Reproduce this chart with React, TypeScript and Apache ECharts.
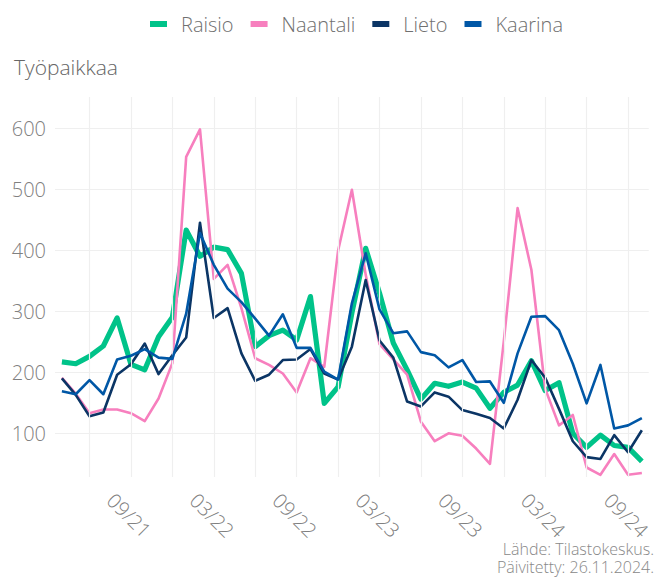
import React, { useEffect, useRef } from "react";
import * as echarts from "echarts";

const months: string[] = [
  "04/21", "05/21", "06/21", "07/21", "08/21", "09/21", "10/21", "11/21", "12/21",
  "01/22", "02/22", "03/22", "04/22", "05/22", "06/22", "07/22", "08/22", "09/22", "10/22", "11/22", "12/22",
  "01/23", "02/23", "03/23", "04/23", "05/23", "06/23", "07/23", "08/23", "09/23", "10/23", "11/23", "12/23",
  "01/24", "02/24", "03/24", "04/24", "05/24", "06/24", "07/24", "08/24", "09/24", "10/24",
];

const raisio: number[] = [217, 214, 226, 243, 289, 213, 204, 258, 290, 433, 390, 405, 401, 362, 242, 260, 269, 253, 324, 149, 176, 297, 403, 330, 248, 204, 156, 182, 177, 184, 174, 141, 167, 179, 219, 170, 183, 100, 77, 97, 80, 77, 54];
const naantali: number[] = [191, 165, 133, 139, 139, 133, 120, 157, 215, 553, 598, 353, 376, 305, 223, 212, 198, 167, 223, 209, 399, 499, 360, 246, 221, 196, 119, 87, 100, 96, 75, 50, 250, 469, 368, 173, 113, 130, 44, 32, 66, 32, 35];
const lieto: number[] = [190, 163, 128, 134, 196, 213, 247, 197, 228, 257, 445, 289, 305, 231, 186, 196, 220, 221, 238, 198, 188, 242, 351, 252, 224, 152, 144, 167, 160, 138, 132, 125, 108, 155, 220, 191, 140, 87, 61, 58, 97, 69, 105];
const kaarina: number[] = [169, 164, 187, 164, 221, 227, 238, 224, 222, 296, 428, 376, 337, 315, 288, 260, 295, 240, 240, 201, 188, 313, 395, 303, 264, 267, 233, 228, 208, 220, 184, 185, 150, 231, 291, 292, 269, 214, 149, 212, 108, 113, 125];

const seriesNames: string[] = ["Raisio", "Naantali", "Lieto", "Kaarina"];
const titleText = "Työpaikkaa";
const captionLines: string[] = ["Lähde: Tilastokeskus.", "Päivitetty: 26.11.2024."];

const FONT = "'Open Sans', Lato, sans-serif";

export default function App() {
  const ref = useRef<HTMLDivElement>(null);
  useEffect(() => {
    document.body.style.margin = "0";
    if (!ref.current) return;
    const chart = echarts.init(ref.current, null, { renderer: "svg" });
    const gridIdx = months.map((_, i) => i).filter((i) => i % 3 === 2);
    const colors = ["#00c389", "#f77fbe", "#0b3565", "#0057a6"];
    const widths = [5.2, 2.6, 2.6, 2.6];
    const dataSets = [raisio, naantali, lieto, kaarina];
    chart.setOption({
      animation: false,
      textStyle: { fontFamily: FONT },
      title: {
        text: titleText,
        left: 9,
        top: 51,
        textStyle: { fontFamily: FONT, fontSize: 21, fontWeight: 300, color: "#666666" },
      },
      legend: {
        data: seriesNames,
        top: 9,
        left: 145,
        icon: "rect",
        itemWidth: 17,
        itemHeight: 6,
        itemGap: 17,
        textStyle: { fontFamily: FONT, fontSize: 20, fontWeight: 300, color: "#707070", padding: [0, 0, 0, 9] },
      },
      grid: { left: 55, right: 3, top: 97, bottom: 101, containLabel: false },
      xAxis: {
        type: "category",
        data: months,
        boundaryGap: true,
        axisLine: { show: false },
        axisTick: { show: false },
        splitLine: { show: false },
        axisLabel: {
          interval: (i: number) => i % 6 === 5,
          rotate: -45,
          align: "center",
          verticalAlign: "middle",
          margin: 40,
          padding: [5, 5, 0, 0],
          fontFamily: FONT,
          fontSize: 20,
          fontWeight: 300,
          color: "#808080",
        },
      },
      yAxis: {
        type: "value",
        min: 28.4,
        max: 651,
        splitNumber: 6,
        axisLine: { show: false },
        axisTick: { show: false },
        axisLabel: {
          showMinLabel: false,
          showMaxLabel: false,
          margin: 9,
          fontFamily: FONT,
          fontSize: 20,
          fontWeight: 300,
          color: "#808080",
        },
        splitLine: { show: true, showMinLine: false, showMaxLine: false, lineStyle: { color: "#efefef", width: 1.2 } },
      },
      graphic: [
        {
          type: "text",
          x: 654,
          y: 576,
          style: {
            text: captionLines.join("\n"),
            fontFamily: FONT,
            fontSize: 16,
            lineHeight: 18,
            fontWeight: 300,
            fill: "#888888",
            align: "right",
            verticalAlign: "bottom",
          },
        },
      ],
      series: [
        {
          name: "_grid",
          type: "line",
          z: 1,
          silent: true,
          data: months.map(() => null),
          showSymbol: false,
          markLine: {
            silent: true,
            symbol: "none",
            animation: false,
            label: { show: false },
            lineStyle: { color: "#efefef", width: 1.2, type: "solid" },
            data: gridIdx.map((i) => ({ xAxis: months[i] })),
          },
        },
        ...seriesNames.map((name, k) => ({
          name,
          type: "line",
          z: 2 + k,
          data: dataSets[k],
          showSymbol: false,
          symbol: "none",
          color: colors[k],
          lineStyle: { color: colors[k], width: widths[k], join: "round" },
        })),
      ],
    });
    return () => chart.dispose();
  }, []);
  return <div ref={ref} style={{ width: 654, height: 578 }} />;
}
